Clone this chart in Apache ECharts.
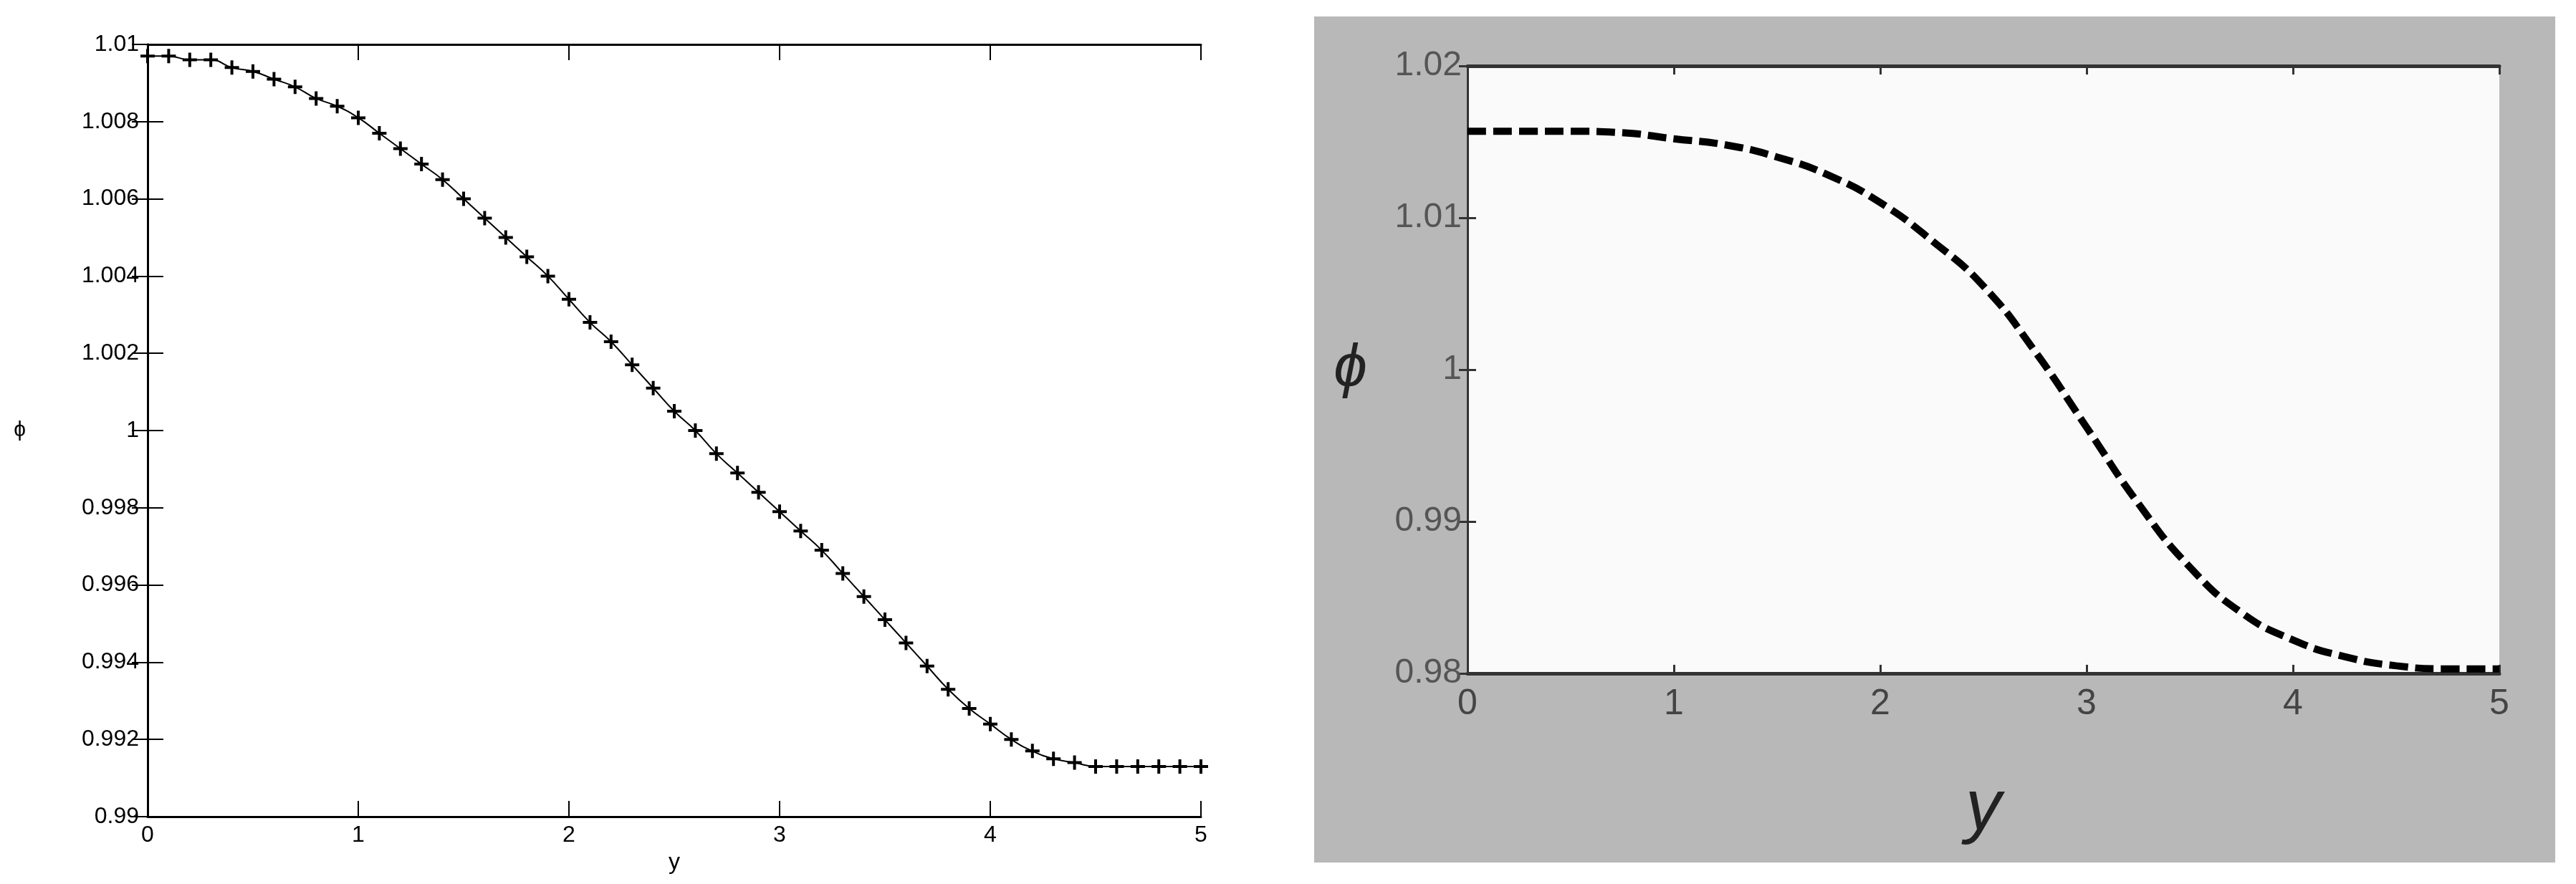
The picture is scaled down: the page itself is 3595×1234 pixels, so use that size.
<!DOCTYPE html>
<html>
<head>
<meta charset="utf-8">
<script src="https://cdn.jsdelivr.net/npm/echarts@6/dist/echarts.min.js"></script>
<style>html,body{margin:0;padding:0;background:#fff}#chart{width:3595px;height:1234px}</style>
</head>
<body>
<div id="chart"></div>
<script>
// left panel: phi vs y, step 0.1
const leftY = [0, 0.1, 0.2, 0.3, 0.4, 0.5, 0.6, 0.7, 0.8, 0.9, 1.0, 1.1, 1.2, 1.3, 1.4, 1.5, 1.6, 1.7, 1.8, 1.9, 2.0,
  2.1, 2.2, 2.3, 2.4, 2.5, 2.6, 2.7, 2.8, 2.9, 3.0, 3.1, 3.2, 3.3, 3.4, 3.5, 3.6, 3.7, 3.8, 3.9, 4.0,
  4.1, 4.2, 4.3, 4.4, 4.5, 4.6, 4.7, 4.8, 4.9, 5.0];
const leftPhi = [1.0097, 1.0097, 1.0096, 1.0096, 1.0094, 1.0093, 1.0091, 1.0089, 1.0086, 1.0084, 1.0081,
  1.0077, 1.0073, 1.0069, 1.0065, 1.0060, 1.0055, 1.0050, 1.0045, 1.0040, 1.0034,
  1.0028, 1.0023, 1.0017, 1.0011, 1.0005, 1.0000, 0.9994, 0.9989, 0.9984, 0.9979,
  0.9974, 0.9969, 0.9963, 0.9957, 0.9951, 0.9945, 0.9939, 0.9933, 0.9928, 0.9924,
  0.9920, 0.9917, 0.9915, 0.9914, 0.9913, 0.9913, 0.9913, 0.9913, 0.9913, 0.9913];

// right panel
const rightY = [0, 0.25, 0.5, 0.75, 1.0, 1.25, 1.5, 1.75, 2.0, 2.25, 2.5, 2.75, 3.0, 3.25, 3.5, 3.75, 4.0, 4.25, 4.5, 4.75, 5.0];
const rightPhi = [1.0157, 1.0157, 1.0157, 1.0156, 1.0152, 1.0148, 1.0140, 1.0128, 1.0110, 1.0085, 1.0055,
  1.0012, 0.9962, 0.9912, 0.9870, 0.9840, 0.9822, 0.9811, 0.9805, 0.9803, 0.9803];

const pair = (xs, ys) => xs.map((x, i) => [x, ys[i]]);
const fontL = '"Liberation Sans Narrow","Liberation Sans",sans-serif';
const fontR = '"Liberation Sans",Arial,sans-serif';

const frameAxis = (pos, gi, extra) => Object.assign({
  type: 'value', gridIndex: gi, position: pos,
  axisLine: { show: true, lineStyle: { color: '#000', width: 3 } },
  axisTick: { show: true, inside: true, length: 22, lineStyle: { color: '#000', width: 2 } },
  axisLabel: { show: false }, splitLine: { show: false }
}, extra);
const rTick = { show: true, inside: true, length: 12, lineStyle: { color: '#333', width: 3 } };

const chart = echarts.init(document.getElementById('chart'));
chart.setOption({
  animation: false,
  backgroundColor: '#fff',
  graphic: [{ type: 'rect', shape: { x: 1834, y: 23, width: 1732, height: 1181 }, style: { fill: '#b8b8b8' }, z: -10 }],
  grid: [
    { left: 206, top: 62, width: 1470, height: 1078 },
    { left: 2048, top: 92, width: 1440, height: 848, show: true, backgroundColor: '#fafafa', borderWidth: 0 }
  ],
  xAxis: [
    frameAxis('bottom', 0, { min: 0, max: 5, interval: 1, name: 'y', nameLocation: 'middle', nameGap: 48,
      nameTextStyle: { fontFamily: fontL, fontSize: 32, color: '#000' },
      axisLabel: { show: true, fontFamily: fontL, fontSize: 32, color: '#000', margin: 10 } }),
    frameAxis('top', 0, { min: 0, max: 5, interval: 1 }),
    frameAxis('bottom', 1, { min: 0, max: 5, interval: 1, name: 'y', nameLocation: 'middle', nameGap: 140,
      axisLine: { show: true, lineStyle: { color: '#333', width: 5 } }, axisTick: rTick,
      nameTextStyle: { fontFamily: fontR, fontSize: 100, fontStyle: 'italic', color: '#222' },
      axisLabel: { show: true, fontFamily: fontR, fontSize: 50, color: '#444', margin: 18 } }),
    frameAxis('top', 1, { min: 0, max: 5, interval: 1, axisTick: rTick,
      axisLine: { show: true, lineStyle: { color: '#333', width: 5 } } })
  ],
  yAxis: [
    frameAxis('left', 0, { min: 0.99, max: 1.01, interval: 0.002, name: 'ϕ', nameLocation: 'middle', nameGap: 170,
      nameRotate: 0, nameTextStyle: { fontFamily: fontL, fontSize: 30, color: '#000' },
      axisLabel: { show: true, fontFamily: fontL, fontSize: 32, color: '#000', margin: 12,
        formatter: v => String(+v.toFixed(3)) } }),
    frameAxis('right', 0, { min: 0.99, max: 1.01, interval: 0.002 }),
    frameAxis('left', 1, { min: 0.98, max: 1.02, interval: 0.01, name: 'ϕ', nameLocation: 'middle', nameGap: 140,
      nameRotate: 0, axisLine: { show: true, lineStyle: { color: '#333', width: 3 } }, axisTick: rTick,
      nameTextStyle: { fontFamily: fontR, fontSize: 84, fontStyle: 'italic', color: '#222' },
      axisLabel: { show: true, fontFamily: fontR, fontSize: 48, color: '#555', margin: 8,
        formatter: v => String(+v.toFixed(2)) } }),
    frameAxis('right', 1, { min: 0.98, max: 1.02, interval: 0.01, axisTick: rTick,
      axisLine: { show: true, lineStyle: { color: '#333', width: 3 } } })
  ],
  series: [
    { type: 'line', xAxisIndex: 0, yAxisIndex: 0, data: pair(leftY, leftPhi), smooth: true,
      symbol: 'path://M4,0H6V4H10V6H6V10H4V6H0V4H4Z', symbolSize: 20,
      itemStyle: { color: '#000' }, lineStyle: { color: '#000', width: 2 } },
    { type: 'line', xAxisIndex: 2, yAxisIndex: 2, data: pair(rightY, rightPhi), smooth: true, showSymbol: false,
      lineStyle: { color: '#000', width: 10, type: [26, 10] } }
  ]
});
</script>
</body>
</html>
